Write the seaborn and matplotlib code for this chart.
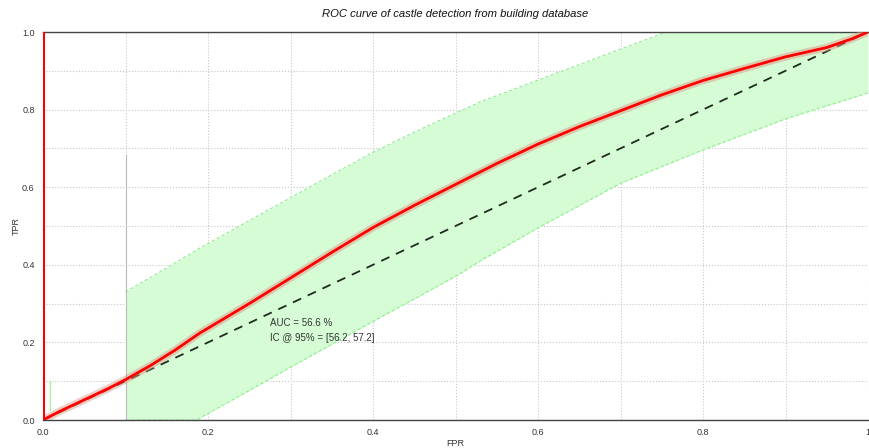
"""
ROC curve of castle detection with bootstrap envelope and confidence band.
"""

import matplotlib
matplotlib.use('Agg')
import matplotlib.pyplot as plt
import seaborn as sns
import pandas as pd
import numpy as np

# ROC curve
fpr = [0.0, 0.02, 0.05, 0.08, 0.1, 0.13, 0.16, 0.19, 0.22, 0.25, 0.3, 0.35, 0.4,
       0.45, 0.5, 0.55, 0.6, 0.65, 0.7, 0.75, 0.8, 0.85, 0.9, 0.95, 0.98, 1.0]
tpr = [0.0, 0.022, 0.052, 0.082, 0.104, 0.14, 0.18, 0.224, 0.262, 0.30, 0.366, 0.432, 0.496,
       0.553, 0.607, 0.661, 0.711, 0.756, 0.797, 0.838, 0.875, 0.906, 0.936, 0.96, 0.982, 1.0]

# confidence band edges
band_x = [0.1, 0.15, 0.19, 0.25, 0.3, 0.35, 0.4, 0.45, 0.53, 0.6, 0.65, 0.7, 0.756, 0.8, 0.9, 1.0]
band_hi = [0.33, 0.392, 0.443, 0.514, 0.573, 0.632, 0.69, 0.742, 0.82, 0.876, 0.916, 0.956, 1.0,
           1.0, 1.0, 1.0]
band_lo_x = [0.1, 0.186, 0.25, 0.3, 0.4, 0.5, 0.53, 0.6, 0.7, 0.8, 0.9, 1.0]
band_lo = [0.0, 0.0, 0.076, 0.136, 0.254, 0.37, 0.41, 0.495, 0.61, 0.696, 0.776, 0.843]

# spurious marks seen in the reference
vert_red_x = [0.0, 0.0]
vert_red_y = [0.0, 1.0]
gray_x = [0.1, 0.1]
gray_y = [0.0, 0.683]
green_x = [0.008, 0.008]
green_y = [0.026, 0.1]

auc_text = "AUC = 56.6 %\nIC @ 95% = [56.2, 57.2]"

sns.set_style('white')
plt.rcParams['font.family'] = ['Liberation Sans', 'DejaVu Sans']

fig = plt.figure(figsize=(8.7, 4.48), dpi=100)
ax = fig.add_axes([43 / 870, 28 / 448, 825 / 870, 388 / 448])

# confidence band, both edges on one grid for the fill
grid_x = sorted(set(band_x) | set(band_lo_x))
hi_on_grid = np.interp(grid_x, band_x, band_hi)
lo_on_grid = np.interp(grid_x, band_lo_x, band_lo)
ax.fill_between(grid_x, lo_on_grid, hi_on_grid, color='#d6fcd6', lw=0, zorder=1)
ax.plot(band_x, band_hi, color='#90ee90', lw=0.8, ls=(0, (3, 2)), zorder=2)
ax.plot(band_lo_x, band_lo, color='#90ee90', lw=0.8, ls=(0, (3, 2)), zorder=2)
ax.plot(green_x, green_y, color='#a8eea8', lw=1.0, zorder=2)

# chance diagonal
sns.lineplot(x=[0, 1], y=[0, 1], ax=ax, color='#1f2a1f', lw=1.3,
             linestyle=(0, (5, 4)), zorder=3)

ax.plot(gray_x, gray_y, color='#bbbbbb', lw=0.8, zorder=2)

# ROC with bootstrap envelope
roc = pd.DataFrame({'FPR': fpr, 'TPR': tpr})
ax.plot(roc['FPR'], roc['TPR'], color='#dc9a8a', lw=5.5, alpha=0.5,
        solid_capstyle='round', solid_joinstyle='round', zorder=4)
sns.lineplot(data=roc, x='FPR', y='TPR', ax=ax, color='red', lw=2.0,
             sort=False, estimator=None, zorder=5)
ax.plot(vert_red_x, vert_red_y, color='red', lw=2.2, zorder=5)

ax.text(0.275, 0.262, auc_text, fontsize=7, color='#333333',
        linespacing=1.6, va='top', zorder=6)

ax.set_xlim(0, 1)
ax.set_ylim(0, 1)
ax.set_xticks([0, 0.2, 0.4, 0.6, 0.8, 1.0])
ax.set_xticklabels(['0.0', '0.2', '0.4', '0.6', '0.8', '1'])
ax.set_yticks([0, 0.2, 0.4, 0.6, 0.8, 1.0])
ax.set_yticklabels(['0.0', '0.2', '0.4', '0.6', '0.8', '1.0'])
ax.set_xticks(np.arange(0.1, 1.0, 0.2), minor=True)
ax.set_yticks(np.arange(0.1, 1.0, 0.2), minor=True)
ax.grid(True, which='both', color='#c8c8c8', ls=':', lw=0.8)
ax.tick_params(axis='both', which='both', length=0, labelsize=6.5,
               labelcolor='#333333', pad=6)

for side in ['left', 'right']:
    ax.spines[side].set_visible(False)
for side in ['top', 'bottom']:
    ax.spines[side].set_color('#444444')
    ax.spines[side].set_linewidth(1.0)

ax.set_xlabel('FPR', fontsize=6.5, color='#333333', labelpad=1.5)
ax.set_ylabel('TPR', fontsize=6.5, color='#333333', labelpad=1)
ax.set_title('ROC curve of castle detection from building database',
             fontsize=8.1, style='italic', color='#111111', pad=11)

plt.savefig('out.png', dpi=100)
plt.close()
